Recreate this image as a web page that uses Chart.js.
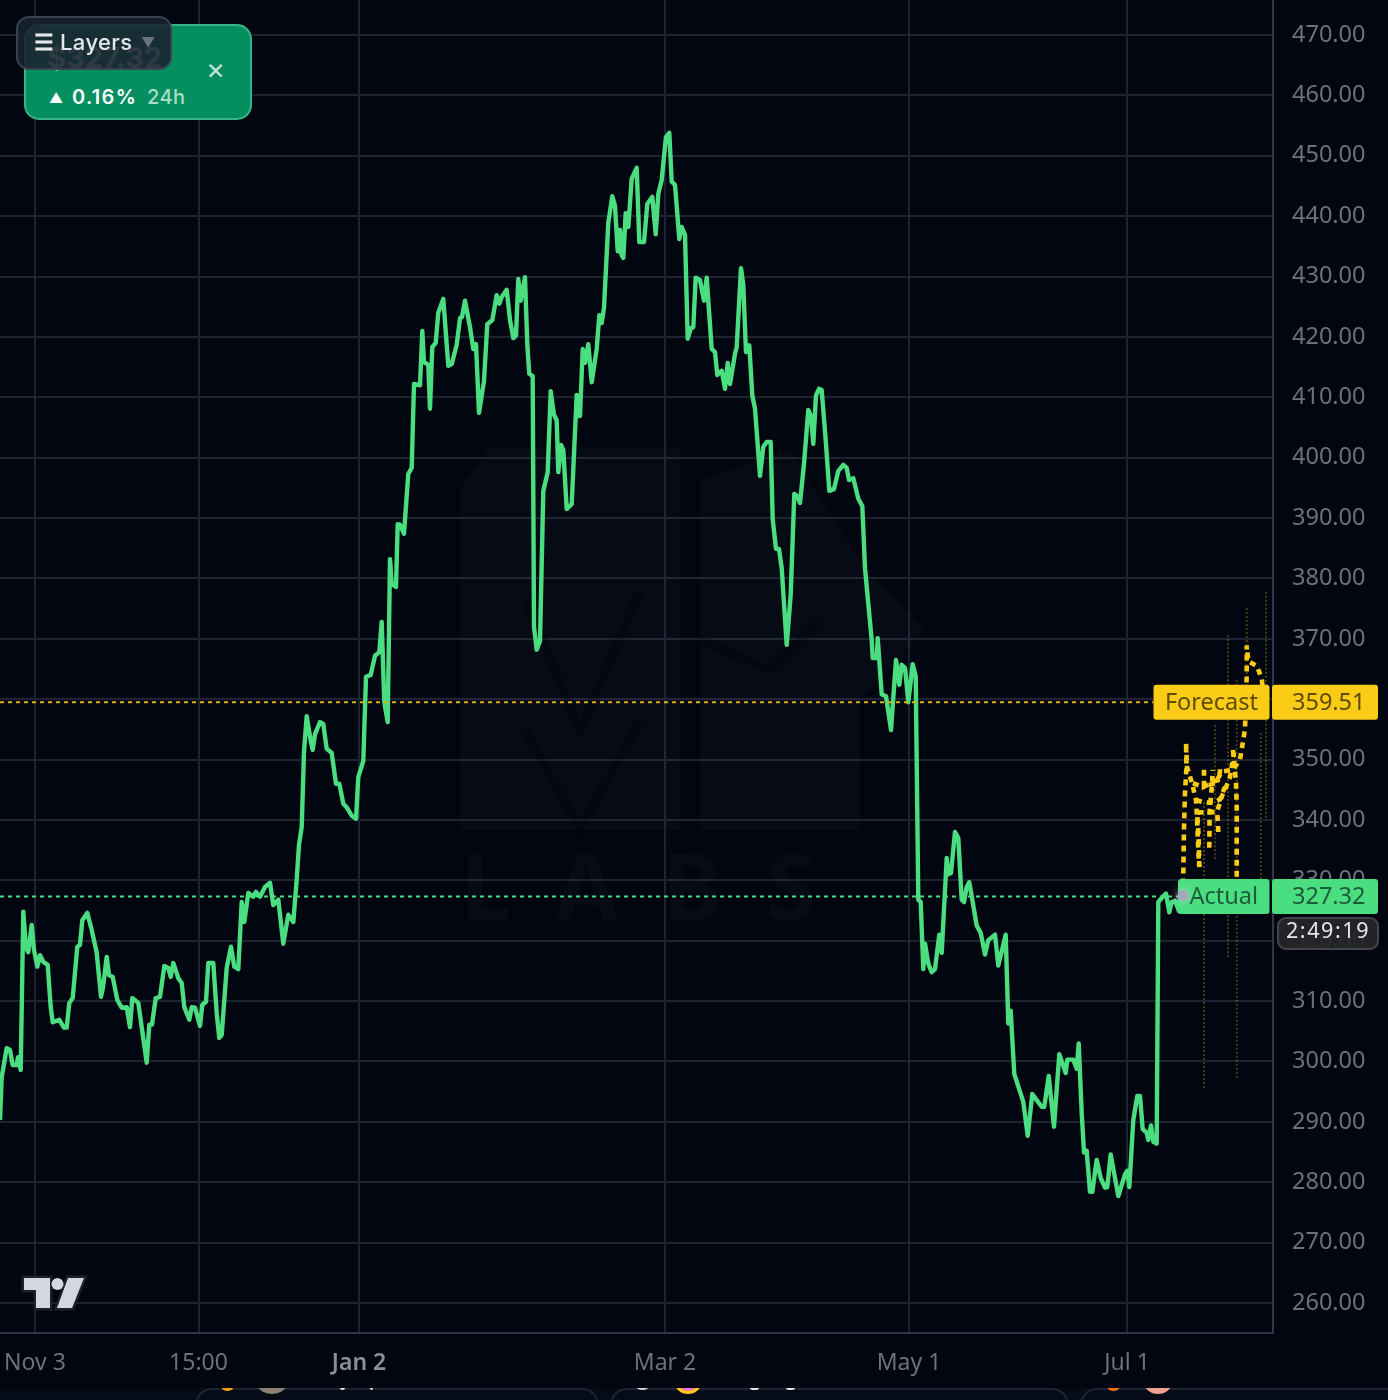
<!DOCTYPE html>
<html>
<head>
<meta charset="utf-8">
<title>Actual vs Forecast</title>
<script src="https://cdn.jsdelivr.net/npm/chart.js@4/dist/chart.umd.min.js"></script>
<style>
  html, body { margin: 0; padding: 0; background: #020611; }
  #wrap { position: relative; width: 1388px; height: 1400px; overflow: hidden; background: #020611; }
  #chart { position: absolute; left: 0; top: 0; filter: blur(0.7px); }
  .card { position: absolute; left: 24px; top: 24px; width: 224px; height: 92px; border: 2px solid #36b585; border-radius: 15px; background: #058f60; color: #fff; font-family: Inter, sans-serif; }
  .card .ghost { position: absolute; left: 21px; top: 14px; font-size: 29px; font-weight: 700; color: #fff; }
  .card .arrow { position: absolute; left: 23px; top: 63px; font-size: 14px; }
  .card .change { position: absolute; left: 46px; top: 59px; font-size: 20px; font-weight: 600; letter-spacing: 1.3px; white-space: nowrap; }
  .card .period { position: absolute; left: 121px; top: 59px; font-size: 20px; font-weight: 500; letter-spacing: 0.4px; color: #a9dcc8; white-space: nowrap; }
  .card .close { position: absolute; left: 180px; top: 31px; font-size: 23px; color: #c4e6d8; }
  .layers { position: absolute; left: 16px; top: 16px; width: 152px; height: 50px; border: 2px solid #394252; border-radius: 13px; background: rgba(24, 36, 48, 0.9); color: #e5e7eb; font-family: Inter, sans-serif; font-size: 22px; font-weight: 500; letter-spacing: 0.4px; line-height: 48px; white-space: nowrap; }
  .layers .menu { position: absolute; left: 16px; top: 0; font-weight: 700; }
  .layers .name { position: absolute; left: 42px; top: 0; }
  .layers .arrow { position: absolute; left: 123px; top: 1px; color: #6b7280; font-size: 14px; }
  .tv-logo { position: absolute; left: 16px; top: 1270px; }
  .strip { position: absolute; left: 0; top: 1388px; width: 1388px; height: 12px; background: #060b18; overflow: hidden; }
  .strip .slot { position: absolute; top: 0; height: 30px; border: 2px solid #1d2535; border-radius: 18px; background: #060b18; }
  .strip .dot { position: absolute; border-radius: 50%; }
</style>
</head>
<body>
<div id="wrap">
  <canvas id="chart" width="1388" height="1400"></canvas>

  <div class="card">
    <div class="ghost">$327.32</div>
    <div class="arrow">▲</div>
    <div class="change">0.16%</div>
    <div class="period">24h</div>
    <div class="close">✕</div>
  </div>
  <div class="layers">
    <span class="menu">☰</span><span class="name">Layers</span><span class="arrow">▼</span>
  </div>

  <svg class="tv-logo" width="76" height="46" viewBox="0 0 76 46">
    <path d="M8 8H34V38H20V20H8Z M52 8H68L56 38H41Z" fill="#d5d7e0" stroke="#1c2130" stroke-width="5" paint-order="stroke" stroke-linejoin="miter"/>
    <circle cx="41.5" cy="14" r="6" fill="#d5d7e0"/>
  </svg>

  <div class="strip">
    <div class="slot" style="left:195px;width:400px"></div>
    <div class="slot" style="left:610px;width:455px"></div>
    <div class="slot" style="left:1080px;width:340px"></div>
    <div class="dot" style="left:222px;top:-3px;width:11px;height:6px;background:#f59e0b"></div>
    <div class="dot" style="left:258px;top:-12px;width:28px;height:18px;background:#8a7f72"></div>
    <div class="dot" style="left:340px;top:-2px;width:5px;height:4px;background:#e5e7eb"></div>
    <div class="dot" style="left:370px;top:-2px;width:3px;height:4px;background:#e5e7eb"></div>
    <div class="dot" style="left:637px;top:-3px;width:11px;height:5px;background:#d1d5db"></div>
    <div class="dot" style="left:675px;top:-16px;width:26px;height:22px;background:#f472b6;border:3px solid #facc15;box-sizing:border-box"></div>
    <div class="dot" style="left:750px;top:-2px;width:9px;height:4px;background:#e5e7eb"></div>
    <div class="dot" style="left:786px;top:-2px;width:9px;height:4px;background:#e5e7eb"></div>
    <div class="dot" style="left:1108px;top:-3px;width:11px;height:6px;background:#f97316"></div>
    <div class="dot" style="left:1144px;top:-18px;width:28px;height:24px;background:#f0a090"></div>
  </div>
</div>

<script>
// ── Data ─────────────────────────────────────────────────────────────────────
// Time runs in bar numbers along the visible range, prices are read off the axis.

const yTicks = [470, 460, 450, 440, 430, 420, 410, 400, 390, 380, 370, 360, 350, 340, 330, 320, 310, 300, 290, 280, 270, 260];
const xTickBars = [35, 198.5, 359, 665, 909, 1127];
const xTickLabels = ['Nov 3', '15:00', 'Jan 2', 'Mar 2', 'May 1', 'Jul 1'];

const actualBarsA = [
  0, 1.7, 6.7, 10, 12.7, 16.7, 18, 20.7, 23.3, 26,
  28.3, 31.7, 34, 37.3, 40, 43.3, 47.7, 50.7, 52.7, 59.3,
  64, 66.7, 69.3, 72.7, 77.3, 80, 82.3, 87.3, 91.7, 96.7,
  101, 103, 106.7, 109, 112.7, 117.3, 121.7, 126.7, 130, 132.3,
  138.3, 146.7, 149.3, 152, 155.7, 160, 164.3, 168.3, 170.7, 173.3,
  178.3, 181.7, 184.3, 189.3, 191.7, 195, 200, 202.3, 206, 208.3,
  213.3, 216.7, 219.3, 221.7, 226.7, 231, 234.3, 238.3, 241.7, 244.3,
  248.3, 253.3, 256, 260, 265, 270, 273.3, 278.3, 283.3, 288.3,
  293.3, 296.7, 299, 301.7, 304, 306.7, 310.7, 312.7, 315, 320
];
const actualValuesA = [
  290.3, 297.4, 302.2, 301.9, 299.4, 299.4, 300.7, 298.6, 324.8, 318.8,
  318.1, 322.6, 318.5, 315.7, 317.6, 316.5, 316, 309, 306.5, 306.9,
  305.6, 305.6, 309.7, 310.5, 319, 319.3, 323.4, 324.6, 321.8, 318,
  310.7, 312.3, 317.3, 314.3, 314, 310.2, 308.9, 309, 305.7, 310.5,
  309.7, 299.8, 306.1, 306.1, 310.5, 310.7, 315.8, 315.5, 314, 316.3,
  313.8, 313, 309, 306.9, 309, 308.9, 305.9, 309.4, 309.9, 316.3,
  316.3, 308, 303.9, 304.4, 315.5, 319, 315.7, 315.3, 326.4, 323.1,
  327.9, 327.3, 328.1, 327.3, 328.9, 329.6, 325.9, 326.8, 319.5, 324.3,
  323.1, 330.1, 335.9, 338.8, 351.3, 357.2, 353.1, 351.6, 354.2, 356.2
];

const actualBarsB = [
  323.3, 326.7, 331.7, 336, 339.3, 343.3, 346.7, 351.7, 356, 358.3,
  363.3, 366, 370.7, 375, 379.3, 381.7, 384.3, 387.7, 390, 391.7,
  396, 397.7, 400, 404, 408.3, 411.7, 414, 420, 422.3, 424,
  428.3, 430, 432.3, 435.7, 438.3, 443.3, 448.3, 451.7, 456.7, 460,
  462, 465, 470, 473.3, 476, 479, 484, 487.3, 492.3, 496.7,
  499.3, 501.7, 506.7, 510, 513.3, 516, 518.3, 520.7, 525, 527.3,
  529.3, 532.7, 534, 536.7, 540, 543.3, 547.7, 550.7, 554, 556.7,
  558.3, 561, 563.3, 566.7, 571.7, 576.7, 578.3, 580, 582.7, 585,
  588.3, 591.7, 596.7, 599.3, 601.7, 604, 608.3, 612.3, 615, 617.7
];
const actualValuesB = [
  355.9, 351.8, 351.1, 346, 346, 342.7, 342.1, 340.7, 340.2, 347.1,
  349.8, 363.7, 364, 367.2, 367.8, 372.8, 359.5, 356.2, 383.2, 379.1,
  378.6, 389, 388.9, 387.4, 397.3, 398.3, 412.2, 412, 421, 415.8,
  415.4, 408.1, 418.3, 419, 424, 426.3, 415.2, 415.5, 418.7, 423.1,
  423.3, 426, 421.6, 418, 418.8, 407.4, 412.7, 422.1, 422.8, 426.9,
  425.5, 426.6, 427.8, 422.8, 419.8, 420.2, 429.6, 426, 429.9, 418.7,
  413.9, 413.5, 372, 368.2, 369.6, 394.5, 397.6, 411, 407.1, 406.2,
  397.6, 402.1, 401.3, 391.5, 392.3, 410.4, 406.9, 406.9, 418, 415.7,
  418.8, 412.5, 418, 423.6, 422.3, 424.8, 438.9, 443.3, 441.7, 434.2
];

const actualBarsC = [
  620, 621.5, 623.3, 625.7, 628.3, 631.7, 636.7, 639.3, 644, 647.3,
  652.3, 655.7, 658.3, 661.7, 666, 669.3, 671.7, 675, 679.3, 681.7,
  685, 687.7, 691, 693.3, 695.7, 700, 704, 706.7, 711.7, 715,
  717.3, 721.7, 725, 727.7, 730, 735, 736.7, 741, 743.3, 746,
  749.3, 752.3, 755, 760, 763.3, 766.7, 770.7, 772.7, 776, 779,
  781.7, 786.7, 790.7, 794.3, 797, 800, 804, 808.3, 811, 813.3,
  816, 819, 821.7, 825.7, 829.3, 834, 838.3, 843.3, 846.7, 849,
  853.3, 858.3, 862.3, 865, 871.7, 872.7, 876.7, 877.7, 881.7, 886
];
const actualValuesC = [
  437.7, 433.6, 433.1, 440.5, 438.2, 446.2, 448, 435.7, 435.7, 442,
  443.2, 437, 443.7, 446, 453.1, 453.8, 445.7, 445.2, 436.2, 438.2,
  436.9, 419.7, 421.5, 421.6, 429.8, 429.4, 426, 429.8, 418, 417.5,
  413.7, 414.4, 411.4, 415.7, 412.2, 417.2, 418.3, 431.4, 428.6, 417.5,
  418.6, 410.3, 408.1, 397, 401.8, 402.6, 402.6, 389.8, 384.9, 384.9,
  381.7, 369, 377.3, 394, 393.7, 392.5, 399, 407.9, 406.9, 402.3,
  410.3, 411.4, 411.2, 402.9, 394.5, 394.8, 397.8, 398.8, 398.3, 396.3,
  396.6, 393.2, 392, 381.7, 369.8, 366.8, 366.8, 370.1, 360.8, 360.5
];

const actualBarsD = [
  891, 896, 899.3, 901.7, 905, 908.3, 912.7, 915.7, 918.3, 920.7,
  923.3, 925, 928.3, 931.7, 935, 939.3, 941.7, 946.7, 948.3, 951,
  955, 958.3, 961.7, 964, 966.7, 969.3, 976.7, 980.7, 985, 988.3,
  995, 998.3, 1005.7, 1008.3, 1010.7, 1014.3, 1023.3, 1027.7, 1032.3, 1036.7,
  1041.7, 1044.3, 1048.7, 1054, 1059.3, 1065.7, 1067.3, 1073.3, 1076.7, 1078.7,
  1081.7, 1084, 1086.7, 1090, 1092.3, 1096.7, 1100.7, 1105, 1107.3, 1110.7,
  1118.3, 1125, 1127.3, 1129.3, 1133.3, 1137.3, 1140, 1142.7, 1146.7, 1148.3,
  1151, 1153.3, 1156.7, 1158.3, 1161.7, 1166, 1169.3, 1171.7, 1175, 1179,
  1180, 1183
];
const actualValuesD = [
  354.9, 366.5, 362.4, 365.7, 365.2, 359.5, 365.8, 363.8, 326.8, 326.4,
  315.3, 319.5, 316.2, 314.8, 315.3, 321, 318, 333.7, 331, 331.2,
  338, 337, 326.8, 326.4, 328.9, 329.7, 322.5, 321.3, 317.7, 320.1,
  321, 315.9, 321, 306.3, 308.4, 297.9, 293.3, 287.7, 294.6, 293.6,
  292.5, 292.5, 297.6, 289.2, 301.2, 298.1, 300.3, 300.3, 298.8, 303,
  291.5, 284.9, 285.2, 278.4, 278.4, 283.7, 280.7, 279.1, 279.2, 284.6,
  277.7, 281.3, 281.9, 279.2, 290.3, 294.3, 294.3, 288.8, 288.2, 287,
  289.4, 286.7, 286.4, 326.4, 327.1, 327.8, 324.7, 326.4, 326.6, 324.9,
  327.3, 327.5
];

// Forecast paths fan out from the last close
const forecastBarsA = [1183, 1184, 1185, 1186.5, 1186, 1187, 1192, 1196, 1197, 1198.3, 1199.3];
const forecastValuesA = [327.5, 338.8, 344.5, 348.8, 352.8, 348.8, 346.1, 343.3, 340.5, 335, 332.2];
const forecastBarsB = [1199.3, 1199, 1198.3, 1197, 1205, 1217, 1222, 1225, 1230, 1234];
const forecastValuesB = [332.2, 335, 338.3, 341.2, 341.3, 341.3, 344, 345, 347.1, 351.1];
const forecastBarsC = [1204, 1204, 1215, 1222, 1233, 1240, 1245, 1246.7, 1246.7, 1248.3, 1256.7, 1261.7, 1266];
const forecastValuesC = [348.3, 345.5, 346.1, 348, 348.3, 350, 355, 363.8, 368.9, 366.3, 365.5, 363.5, 356.5];
const forecastBarsD = [1196, 1202, 1213, 1220, 1225];
const forecastValuesD = [343.3, 343, 342.8, 343.4, 345.5];
const forecastBarsE = [1233, 1236, 1236.7, 1236.7, 1236.7];
const forecastValuesE = [351.6, 346.1, 342.1, 334.5, 330.1];
const forecastBarsF = [1193, 1203, 1212, 1218, 1220, 1220];
const forecastValuesF = [346.1, 345.4, 346.3, 346.6, 348, 348.4];
const forecastBarsG = [1209.3, 1209.5, 1209.5, 1212, 1212.7];
const forecastValuesG = [335.4, 338.2, 341.2, 345.8, 348.3];
const forecastBarsH = [1218.3, 1218, 1217];
const forecastValuesH = [338, 339.5, 341.3];

// Faint outer band, one thin column per bar
const bandBars = [1204, 1204, null, 1215, 1215, null, 1228, 1228, null, 1236.7, 1236.7, null, 1246.7, 1246.7, null, 1260.7, 1260.7, null, 1266, 1266];
const bandValues = [295.6, 343.3, null, 355.7, 333.4, null, 370.6, 317.3, null, 363.2, 297.3, null, 375.1, 359.9, null, 354.4, 330.1, null, 377.8, 340];

const forecastPrice = 359.51;
const actualPrice = 327.32;
const lastBar = 1183;
const lastValue = 327.5;
const priceLineStart = 0;
const forecastLineEnd = 1153;
const actualLineEnd = 1178;

const GREEN = '#4ade80';
const YELLOW = '#facc15';
const FONT = '"Noto Sans", sans-serif';

const zip = (xs, ys) => xs.map((x, i) => ({ x, y: ys[i] }));

const forecastSet = (xs, ys) => ({
  data: zip(xs, ys), borderColor: YELLOW, borderWidth: 4.6, borderDash: [6, 5], pointRadius: 0, order: 1
});

// Chart.js reserves room for half of the outer labels, the axes here run edge to edge
const noAxisPadding = axis => {
  axis.paddingLeft = 0;
  axis.paddingRight = 0;
  axis.paddingTop = 0;
  axis.paddingBottom = 0;
};

// ── Inline plugins ───────────────────────────────────────────────────────────

const watermarkPlugin = {
  id: 'watermark',
  beforeDatasetsDraw(chart) {
    const { ctx } = chart;
    ctx.save();
    ctx.fillStyle = 'rgba(255,255,255,0.022)';
    ctx.font = 'bold 91px ' + FONT;
    ctx.letterSpacing = '44px';
    ctx.textBaseline = 'alphabetic';
    ctx.fillText('LABS', 460, 920);
    ctx.letterSpacing = '0px';
    ctx.beginPath();
    ctx.moveTo(460, 490); ctx.lineTo(490, 447); ctx.lineTo(680, 447); ctx.lineTo(680, 830); ctx.lineTo(460, 830);
    ctx.closePath();
    ctx.moveTo(700, 480); ctx.lineTo(790, 450); ctx.lineTo(860, 560); ctx.lineTo(925, 630); ctx.lineTo(860, 700); ctx.lineTo(860, 830); ctx.lineTo(700, 830);
    ctx.closePath();
    ctx.fill();
    ctx.strokeStyle = 'rgba(0,0,0,0.2)';
    ctx.lineWidth = 9;
    ctx.beginPath();
    ctx.moveTo(525, 600); ctx.lineTo(580, 730); ctx.lineTo(640, 590);
    ctx.moveTo(525, 730); ctx.lineTo(580, 830); ctx.lineTo(640, 720);
    ctx.moveTo(700, 640); ctx.lineTo(770, 670); ctx.lineTo(820, 620);
    ctx.stroke();
    ctx.restore();
  }
};

const priceTagPlugin = {
  id: 'priceTags',
  afterDraw(chart) {
    const { ctx, scales: { x, y } } = chart;
    const tag = (left, right, price, fill) => {
      const cy = y.getPixelForValue(price);
      ctx.fillStyle = fill;
      ctx.beginPath();
      ctx.roundRect(left, cy - 17.5, right - left, 35, 3);
      ctx.fill();
      return cy;
    };
    const label = (text, px, cy, align, color) => {
      ctx.font = '23.5px ' + FONT;
      ctx.textAlign = align;
      ctx.textBaseline = 'middle';
      ctx.fillStyle = color;
      ctx.fillText(text, px, cy + 1);
    };

    ctx.save();

    let cy = tag(1153.5, 1269.5, forecastPrice, YELLOW);
    tag(1272, 1378, forecastPrice, YELLOW);
    label('Forecast', 1258, cy, 'right', '#5e4c08');
    label(forecastPrice.toFixed(2), 1292, cy, 'left', '#5e4c08');

    cy = tag(1178, 1269.5, actualPrice, GREEN);
    tag(1272, 1378, actualPrice, GREEN);
    label('Actual', 1258, cy, 'right', '#1d5c3a');
    label(actualPrice.toFixed(2), 1292, cy, 'left', '#1d5c3a');

    // countdown box under the price tag
    ctx.fillStyle = 'rgba(38,38,42,0.93)';
    ctx.strokeStyle = '#43454c';
    ctx.lineWidth = 2;
    ctx.beginPath();
    ctx.roundRect(1278, 918, 100, 31, 8);
    ctx.fill();
    ctx.stroke();
    ctx.font = '21.5px ' + FONT;
    ctx.letterSpacing = '1.6px';
    ctx.fillStyle = '#e5e7eb';
    ctx.textAlign = 'center';
    ctx.textBaseline = 'middle';
    ctx.fillText('2:49:19', 1328, 932);
    ctx.letterSpacing = '0px';

    // last close marker
    const dotX = x.getPixelForValue(lastBar);
    const dotY = y.getPixelForValue(lastValue);
    ctx.shadowColor = 'rgba(220,220,235,0.8)';
    ctx.shadowBlur = 9;
    ctx.fillStyle = '#a7a7bb';
    ctx.beginPath();
    ctx.arc(dotX, dotY, 5.5, 0, Math.PI * 2);
    ctx.fill();

    ctx.restore();
  }
};

// ── Chart ────────────────────────────────────────────────────────────────────

new Chart(document.getElementById('chart'), {
  type: 'line',
  data: {
    datasets: [
      // faint band
      {
        data: zip(bandBars, bandValues), borderColor: 'rgba(250,204,21,0.28)', borderWidth: 2, borderDash: [2, 2],
        pointRadius: 0, spanGaps: false, order: 4
      },
      // price
      {
        data: zip(actualBarsA, actualValuesA)
          .concat(zip(actualBarsB, actualValuesB), zip(actualBarsC, actualValuesC), zip(actualBarsD, actualValuesD)),
        borderColor: GREEN, borderWidth: 4.4, borderJoinStyle: 'round', tension: 0, pointRadius: 0, order: 3
      },
      forecastSet(forecastBarsA, forecastValuesA),
      forecastSet(forecastBarsB, forecastValuesB),
      forecastSet(forecastBarsC, forecastValuesC),
      forecastSet(forecastBarsD, forecastValuesD),
      forecastSet(forecastBarsE, forecastValuesE),
      forecastSet(forecastBarsF, forecastValuesF),
      forecastSet(forecastBarsG, forecastValuesG),
      forecastSet(forecastBarsH, forecastValuesH),
      // price lines
      {
        data: zip([priceLineStart, forecastLineEnd], [forecastPrice, forecastPrice]),
        borderColor: '#e0b30e', borderWidth: 2, borderDash: [4, 4], pointRadius: 0, order: 0
      },
      {
        data: zip([priceLineStart, actualLineEnd], [actualPrice, actualPrice]),
        borderColor: GREEN, borderWidth: 2, borderDash: [4, 4], pointRadius: 0, order: 0
      }
    ]
  },
  options: {
    responsive: false,
    animation: false,
    devicePixelRatio: 1,
    layout: { padding: 0 },
    plugins: { legend: { display: false }, tooltip: { enabled: false } },
    scales: {
      x: {
        type: 'linear',
        min: 0,
        max: 1273,
        afterBuildTicks: axis => { axis.ticks = xTickBars.map(value => ({ value })); },
        afterFit: axis => { axis.height = 67; noAxisPadding(axis); },
        grid: { color: '#1c2331', lineWidth: 2, drawTicks: false },
        border: { color: '#2d3745', width: 2 },
        ticks: {
          autoSkip: false,
          maxRotation: 0,
          padding: 17,
          callback: (value, index) => xTickLabels[index],
          color: ctx => (ctx.index === 2 ? '#8b8f98' : '#6c717b'),
          font: ctx => ({ family: '"Noto Sans", sans-serif', size: 23, weight: ctx.index === 2 ? '600' : '400' })
        }
      },
      y: {
        position: 'right',
        min: 255.03,
        max: 475.8,
        afterBuildTicks: axis => { axis.ticks = yTicks.map(value => ({ value })); },
        afterFit: axis => { axis.width = 115; noAxisPadding(axis); },
        grid: { color: '#1c2331', lineWidth: 2, drawTicks: false },
        border: { color: '#2d3745', width: 2 },
        ticks: {
          padding: 19,
          callback: value => value.toFixed(2),
          color: '#6c717b',
          font: { family: '"Noto Sans", sans-serif', size: 23.5 }
        }
      }
    }
  },
  plugins: [watermarkPlugin, priceTagPlugin]
});
</script>
</body>
</html>
